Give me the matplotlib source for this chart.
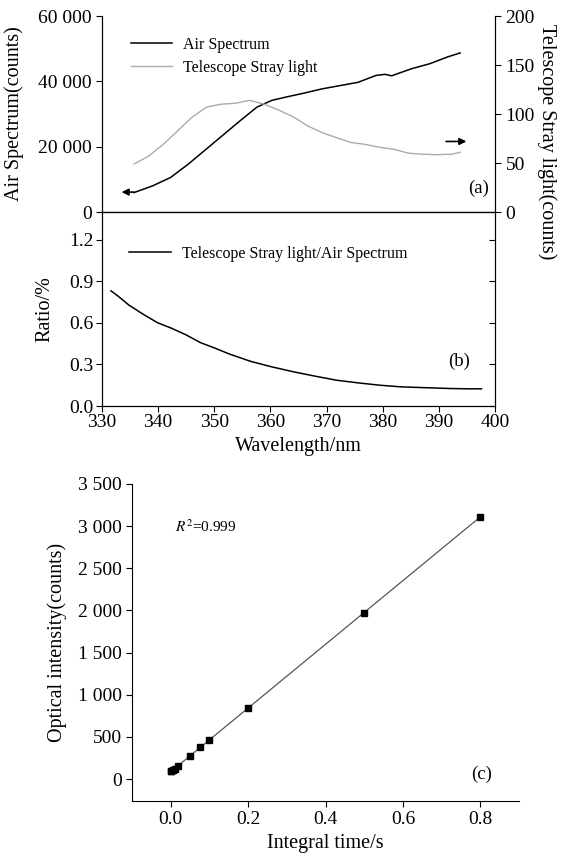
import numpy as np
import matplotlib
matplotlib.use("Agg")
import matplotlib.pyplot as plt
from matplotlib.ticker import FuncFormatter

plt.rcParams["font.family"] = ["Liberation Serif", "DejaVu Serif"]
plt.rcParams["mathtext.fontset"] = "stix"

# (a) air spectrum, left axis (counts)
air_wl = [335.7, 339.0, 342.2, 345.4, 348.6, 351.8, 355.0, 357.6, 360.2, 362.8,
          366.0, 369.2, 372.4, 375.6, 378.8, 380.4, 381.6, 385.2, 388.4, 391.6, 393.8]
air_counts = [5950, 8000, 10560, 14700, 19300, 23900, 28500, 32100, 34150, 35200,
              36400, 37700, 38700, 39700, 41800, 42150, 41700, 43900, 45400, 47500, 48700]

# (a) telescope stray light, right axis (counts)
stray_wl = [335.7, 338.3, 340.9, 343.5, 346.1, 348.6, 351.2, 353.8, 356.3, 358.9,
            361.5, 364.1, 366.6, 369.2, 371.7, 374.3, 376.9, 379.5, 382.0, 384.6,
            387.2, 389.7, 392.3, 393.8]
stray_counts = [49, 57, 69, 83, 97, 107, 110, 111, 114, 110,
                104, 97, 88, 81, 76, 71, 69, 66, 64, 60,
                59, 58.5, 59, 61]

# (b) ratio stray / air (%)
ratio_wl = [331.6, 332.9, 334.8, 337.3, 339.9, 342.4, 345.0, 347.5, 350.1, 352.7,
            356.5, 360.3, 364.2, 368.0, 371.8, 375.6, 379.5, 383.3, 388.4, 392.2,
            395.4, 397.6]
ratio_pct = [0.831, 0.792, 0.728, 0.663, 0.601, 0.561, 0.513, 0.458, 0.418, 0.375,
             0.322, 0.282, 0.246, 0.215, 0.186, 0.167, 0.150, 0.138, 0.131, 0.126,
             0.124, 0.124]

# (c) linearity
int_time = [0.001, 0.002, 0.005, 0.01, 0.02, 0.05, 0.075, 0.1, 0.2, 0.5, 0.8]
intensity = [90, 95, 105, 125, 155, 270, 385, 460, 845, 1975, 3110]

a_xticks = [334.0, 342.9, 351.8, 360.7, 369.6, 378.5, 387.3, 396.2]
LABEL_FS = 14.5
TICK_FS = 14
LEG_FS = 11.5


def spaced(v, pos):
    return f"{int(round(v)):,}".replace(",", " ")


fig = plt.figure(figsize=(5.61, 8.56), dpi=100)
ax_a = fig.add_axes([0.1818, 0.7523, 0.7005, 0.2290])
ax_b = fig.add_axes([0.1818, 0.5257, 0.7005, 0.2266])
ax_c = fig.add_axes([0.2353, 0.0643, 0.6900, 0.3703])

leg_kw = dict(loc="upper left", frameon=False, fontsize=LEG_FS, handlelength=2.6,
              handletextpad=0.7, borderaxespad=0, borderpad=0)

# ---- panel (a)
l1, = ax_a.plot(air_wl, air_counts, color="k", lw=1.1, label="Air Spectrum")
ax_r = ax_a.twinx()
l2, = ax_r.plot(stray_wl, stray_counts, color="#ababab", lw=1.0,
                label="Telescope Stray light")
ax_a.set_xlim(330, 400)
ax_a.set_ylim(0, 60000)
ax_r.set_ylim(0, 200)
for a in (ax_a, ax_r):
    a.spines["top"].set_visible(False)
ax_a.set_xticks(a_xticks)
ax_a.tick_params(axis="x", labelbottom=False, direction="out", length=4)
ax_a.set_yticks([0, 20000, 40000, 60000])
ax_a.yaxis.set_major_formatter(FuncFormatter(spaced))
ax_r.set_yticks([0, 50, 100, 150, 200])
ax_a.tick_params(axis="y", direction="out", length=4, labelsize=TICK_FS)
ax_r.tick_params(axis="y", direction="out", length=4, labelsize=TICK_FS)
ax_a.set_ylabel("Air Spectrum(counts)", fontsize=LABEL_FS)
ax_a.yaxis.set_label_coords(-0.198, 0.5)
ax_r.set_ylabel("Telescope Stray light(counts)", fontsize=LABEL_FS, rotation=270,
                va="center")
ax_r.yaxis.set_label_coords(1.133, 0.36)
ax_a.legend([l1, l2], [l1.get_label(), l2.get_label()],
            bbox_to_anchor=(0.073, 0.895), labelspacing=0.45, **leg_kw)
ax_a.annotate("", xy=(333.0, 6100), xytext=(336.2, 6100),
              arrowprops=dict(arrowstyle="-|>", color="k", lw=1.2))
ax_r.annotate("", xy=(395.4, 72), xytext=(390.8, 72),
              arrowprops=dict(arrowstyle="-|>", color="k", lw=1.2))
ax_a.text(0.985, 0.12, "(a)", transform=ax_a.transAxes, ha="right", va="center",
          fontsize=LABEL_FS - 1)

# ---- panel (b)
lb, = ax_b.plot(ratio_wl, ratio_pct, color="k", lw=1.1,
                label="Telescope Stray light/Air Spectrum")
ax_b.set_xlim(330, 400)
ax_b.set_ylim(0, 1.4)
ax_b.set_xticks(range(330, 401, 10))
ax_b.set_yticks([0.0, 0.3, 0.6, 0.9, 1.2])
ax_b.yaxis.set_major_formatter(FuncFormatter(lambda v, p: f"{v:.1f}"))
ax_b.tick_params(direction="out", length=4, labelsize=TICK_FS, pad=2)
ax_b2 = ax_b.twinx()
ax_b2.set_ylim(0, 1.4)
ax_b2.set_yticks([0.0, 0.3, 0.6, 0.9, 1.2])
ax_b2.tick_params(axis="y", direction="in", length=4, labelright=False)
ax_b.set_ylabel("Ratio/%", fontsize=LABEL_FS)
ax_b.yaxis.set_label_coords(-0.12, 0.5)
ax_b.set_xlabel("Wavelength/nm", fontsize=LABEL_FS, labelpad=4)
ax_b.legend([lb], [lb.get_label()], bbox_to_anchor=(0.069, 0.825), **leg_kw)
ax_b.text(393.6, 0.32, "(b)", ha="center", va="center", fontsize=LABEL_FS - 1)

# ---- panel (c)
coef = np.polyfit(int_time, intensity, 1)
fit_t = np.array([0.0, max(int_time)])
ax_c.plot(fit_t, np.polyval(coef, fit_t), color="#555555", lw=0.9)
ax_c.plot(int_time, intensity, "s", color="k", ms=5)
ax_c.set_xlim(-0.1, 0.9)
ax_c.set_ylim(-260, 3500)
ax_c.set_xticks([0.0, 0.2, 0.4, 0.6, 0.8])
ax_c.xaxis.set_major_formatter(FuncFormatter(lambda v, p: f"{v:.1f}"))
ax_c.set_yticks(range(0, 3501, 500))
ax_c.yaxis.set_major_formatter(FuncFormatter(spaced))
ax_c.spines["top"].set_visible(False)
ax_c.spines["right"].set_visible(False)
ax_c.tick_params(direction="out", length=4, labelsize=TICK_FS)
ax_c.set_ylabel("Optical intensity(counts)", fontsize=LABEL_FS)
ax_c.yaxis.set_label_coords(-0.168, 0.5)
ax_c.set_xlabel("Integral time/s", fontsize=LABEL_FS)
ax_c.text(0.012, 2990, r"$R^2$=0.999", ha="left", va="center", fontsize=11)
ax_c.text(0.803, 60, "(c)", ha="center", va="center", fontsize=LABEL_FS - 1)

fig.savefig("out.png", dpi=100)
